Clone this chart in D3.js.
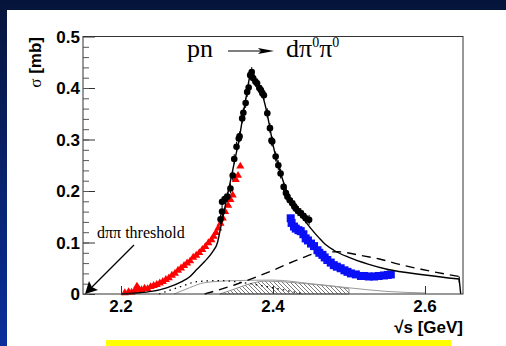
<!DOCTYPE html>
<html>
<head>
<meta charset="utf-8">
<script src="https://cdn.jsdelivr.net/npm/d3@7"></script>
<style>
  html, body { margin: 0; padding: 0; background: #06163a; }
  svg { display: block; }
</style>
</head>
<body>
<div id="chart"></div>
<script>
// black circles (measured data, peak region)
var blackX = [2.331, 2.333, 2.333, 2.337, 2.340, 2.344, 2.347, 2.349, 2.352, 2.355, 2.356, 2.3595, 2.361, 2.364, 2.366, 2.368, 2.370, 2.372, 2.374, 2.377, 2.379, 2.382, 2.384, 2.386, 2.388, 2.3925, 2.396, 2.398, 2.399, 2.4035, 2.407, 2.410, 2.414, 2.417, 2.419, 2.422, 2.4255, 2.428, 2.430, 2.433, 2.4365, 2.440, 2.443, 2.4475];
var blackY = [0.145, 0.160, 0.179, 0.185, 0.189, 0.205, 0.230, 0.262, 0.286, 0.302, 0.306, 0.341, 0.352, 0.371, 0.392, 0.401, 0.425, 0.431, 0.419, 0.412, 0.409, 0.400, 0.396, 0.390, 0.386, 0.351, 0.322, 0.298, 0.296, 0.267, 0.250, 0.234, 0.208, 0.196, 0.189, 0.182, 0.176, 0.170, 0.166, 0.161, 0.157, 0.152, 0.147, 0.144];

// red triangles (low-energy data)
var redX = [2.205, 2.210, 2.214, 2.218, 2.221, 2.223, 2.227, 2.231, 2.235, 2.239, 2.243, 2.247, 2.251, 2.255, 2.259, 2.263, 2.267, 2.271, 2.275, 2.279, 2.283, 2.287, 2.291, 2.295, 2.299, 2.303, 2.307, 2.311, 2.315, 2.319, 2.322, 2.325, 2.328, 2.331, 2.334, 2.337, 2.341, 2.344, 2.347, 2.351, 2.354, 2.357];
var redY = [0.002, 0.004, 0.003, 0.006, 0.015, 0.010, 0.008, 0.011, 0.010, 0.014, 0.016, 0.018, 0.021, 0.024, 0.028, 0.031, 0.036, 0.040, 0.046, 0.050, 0.055, 0.060, 0.064, 0.071, 0.075, 0.080, 0.086, 0.092, 0.099, 0.105, 0.112, 0.119, 0.128, 0.137, 0.147, 0.160, 0.172, 0.183, 0.192, 0.222, 0.230, 0.248];

// blue squares (high-energy data)
var blueX = [2.4233, 2.4245, 2.4276, 2.430, 2.4335, 2.4365, 2.440, 2.443, 2.446, 2.450, 2.454, 2.4585, 2.461, 2.465, 2.468, 2.4715, 2.476, 2.480, 2.484, 2.489, 2.494, 2.498, 2.5025, 2.509, 2.5157, 2.520, 2.526, 2.533, 2.539, 2.546, 2.551, 2.555];
var blueY = [0.147, 0.138, 0.131, 0.127, 0.124, 0.122, 0.116, 0.108, 0.104, 0.098, 0.093, 0.085, 0.080, 0.076, 0.071, 0.066, 0.061, 0.056, 0.053, 0.050, 0.046, 0.043, 0.040, 0.038, 0.035, 0.035, 0.034, 0.034, 0.035, 0.036, 0.037, 0.038];

// full fit (solid line)
var fitX = [2.20, 2.22, 2.24, 2.26, 2.28, 2.29, 2.30, 2.31, 2.32, 2.327, 2.331, 2.336, 2.342, 2.35, 2.356, 2.36, 2.365, 2.370, 2.373, 2.378, 2.385, 2.39, 2.395, 2.40, 2.41, 2.42, 2.43, 2.44, 2.45, 2.46, 2.47, 2.48, 2.50, 2.525, 2.55, 2.60, 2.645];
var fitY = [0.000, 0.002, 0.005, 0.012, 0.024, 0.033, 0.048, 0.063, 0.081, 0.100, 0.128, 0.163, 0.205, 0.262, 0.305, 0.342, 0.385, 0.425, 0.430, 0.414, 0.392, 0.365, 0.330, 0.290, 0.235, 0.192, 0.165, 0.146, 0.127, 0.110, 0.095, 0.085, 0.071, 0.058, 0.048, 0.037, 0.029];

// broad component (dashed line)
var dashX = [2.31, 2.35, 2.40, 2.435, 2.46, 2.485, 2.515, 2.54, 2.565, 2.595, 2.615, 2.645];
var dashY = [0.000, 0.018, 0.046, 0.068, 0.080, 0.082, 0.075, 0.068, 0.058, 0.048, 0.042, 0.034];

// hatched component
var hatchX = [2.33, 2.35, 2.37, 2.39, 2.41, 2.436, 2.463, 2.489, 2.50];
var hatchY = [0.000, 0.010, 0.020, 0.025, 0.024, 0.021, 0.0175, 0.013, 0.010];

// grey component
var greyX = [2.27, 2.29, 2.31, 2.35, 2.40, 2.45, 2.50, 2.55, 2.60];
var greyY = [0.000, 0.012, 0.022, 0.026, 0.027, 0.020, 0.012, 0.005, 0.002];

// dotted component
var dotX = [2.25, 2.28, 2.30, 2.33, 2.36, 2.40, 2.44];
var dotY = [0.000, 0.015, 0.024, 0.026, 0.022, 0.012, 0.000];

var xTicks = [2.2, 2.4, 2.6];
var yTicks = [0, 0.1, 0.2, 0.3, 0.4, 0.5];

var W = 506, H = 346;
var pL = 83, pR = 463, pT = 36.5, pB = 294;

var svg = d3.select('#chart').append('svg')
  .attr('width', W).attr('height', H);

var defs = svg.append('defs');
var bg = defs.append('linearGradient').attr('id', 'bg')
  .attr('x1', 0).attr('y1', 0).attr('x2', 0).attr('y2', 1);
bg.append('stop').attr('offset', '0%').attr('stop-color', '#05153a');
bg.append('stop').attr('offset', '100%').attr('stop-color', '#0a2e9c');

var hatch = defs.append('pattern').attr('id', 'hatch')
  .attr('patternUnits', 'userSpaceOnUse')
  .attr('width', 4).attr('height', 4);
hatch.append('path').attr('d', 'M-1,-1 L5,5 M-1,3 L1,5 M3,-1 L5,1')
  .attr('stroke', '#555').attr('stroke-width', 0.8);

svg.append('rect').attr('width', W).attr('height', H).attr('fill', 'url(#bg)');
svg.append('rect').attr('x', 7).attr('y', 10).attr('width', W - 7).attr('height', H - 10).attr('fill', '#fff');

var x = d3.scaleLinear().domain([2.15, 2.65]).range([pL, pR]);
var y = d3.scaleLinear().domain([0, 0.5]).range([pB, pT]);

var plot = svg.append('g');

function pts(xs, ys) { return xs.map(function(v, i) { return [v, ys[i]]; }); }

var line = d3.line()
  .x(function(d) { return x(d[0]); })
  .y(function(d) { return y(d[1]); })
  .curve(d3.curveMonotoneX);

// hatched area
var area = d3.area()
  .x(function(d) { return x(d[0]); })
  .y0(y(0))
  .y1(function(d) { return y(d[1]); })
  .curve(d3.curveMonotoneX);
plot.append('path').datum(pts(hatchX, hatchY))
  .attr('d', area)
  .attr('fill', 'url(#hatch)')
  .attr('stroke', '#777').attr('stroke-width', 0.8);

// grey line
plot.append('path').datum(pts(greyX, greyY))
  .attr('d', line).attr('fill', 'none')
  .attr('stroke', '#999').attr('stroke-width', 1);

// dotted line
plot.append('path').datum(pts(dotX, dotY))
  .attr('d', line).attr('fill', 'none')
  .attr('stroke', '#000').attr('stroke-width', 1.2)
  .attr('stroke-dasharray', '1.5,4');

// dashed line
var dashPts = pts(dashX, dashY);
plot.append('path').datum(dashPts)
  .attr('d', line).attr('fill', 'none')
  .attr('stroke', '#000').attr('stroke-width', 1.4)
  .attr('stroke-dasharray', '9,6');

// red triangles
var tri = d3.symbol().type(d3.symbolTriangle).size(28);
plot.selectAll('.red').data(pts(redX, redY)).enter().append('path')
  .attr('transform', function(d) { return 'translate(' + x(d[0]) + ',' + y(d[1]) + ')'; })
  .attr('d', tri)
  .attr('fill', '#ff0000');

// blue squares
plot.selectAll('.blue').data(pts(blueX, blueY)).enter().append('rect')
  .attr('x', function(d) { return x(d[0]) - 4; })
  .attr('y', function(d) { return y(d[1]) - 4; })
  .attr('width', 8).attr('height', 8)
  .attr('fill', '#0a10f5');

// black circles with small error bars
var bk = plot.selectAll('.blk').data(pts(blackX, blackY)).enter().append('g');
bk.append('line')
  .attr('x1', function(d) { return x(d[0]); }).attr('x2', function(d) { return x(d[0]); })
  .attr('y1', function(d) { return y(d[1]) - 5; }).attr('y2', function(d) { return y(d[1]) + 5; })
  .attr('stroke', '#000').attr('stroke-width', 1);
bk.append('circle')
  .attr('cx', function(d) { return x(d[0]); })
  .attr('cy', function(d) { return y(d[1]); })
  .attr('r', 3.3).attr('fill', '#000');

// fit line (solid) with drop at the end
var fitPts = pts(fitX, fitY);
plot.append('path').datum(fitPts)
  .attr('d', line).attr('fill', 'none')
  .attr('stroke', '#000').attr('stroke-width', 1.4);
var last = fitPts[fitPts.length - 1];
plot.append('line')
  .attr('x1', x(last[0])).attr('x2', x(last[0]) + 1.5)
  .attr('y1', y(last[1])).attr('y2', y(0))
  .attr('stroke', '#000').attr('stroke-width', 1.4);
var dl = dashPts[dashPts.length - 1];
plot.append('line')
  .attr('x1', x(dl[0])).attr('x2', x(dl[0]))
  .attr('y1', y(dl[1])).attr('y2', y(dl[1]) + 6)
  .attr('stroke', '#000').attr('stroke-width', 1.2);

// frame
svg.append('rect')
  .attr('x', pL).attr('y', pT)
  .attr('width', pR - pL).attr('height', pB - pT)
  .attr('fill', 'none').attr('stroke', '#333').attr('stroke-width', 1);

// y axis: ticks inside, labels left
var yAxis = d3.axisRight(y).tickValues(yTicks).tickSize(12).tickFormat('');
svg.append('g').attr('transform', 'translate(' + pL + ',0)').call(yAxis)
  .call(function(g) { g.select('.domain').remove(); g.selectAll('line').attr('stroke', '#333'); });
var yMinor = d3.axisRight(y).tickValues(d3.range(0, 0.5, 0.02)).tickSize(6).tickFormat('');
svg.append('g').attr('transform', 'translate(' + pL + ',0)').call(yMinor)
  .call(function(g) { g.select('.domain').remove(); g.selectAll('line').attr('stroke', '#555'); });

svg.append('g').selectAll('text').data(yTicks).enter().append('text')
  .attr('x', 80).attr('y', function(d) { return y(d) + 6; })
  .attr('text-anchor', 'end')
  .attr('font-family', 'Liberation Sans, Arial, sans-serif')
  .attr('font-weight', 'bold').attr('font-size', 17)
  .text(function(d) { return d === 0 ? '0' : d3.format('.1f')(d); });

// x axis: ticks inside, labels below
var xAxis = d3.axisTop(x).tickValues(xTicks).tickSize(8).tickFormat('');
svg.append('g').attr('transform', 'translate(0,' + pB + ')').call(xAxis)
  .call(function(g) { g.select('.domain').remove(); g.selectAll('line').attr('stroke', '#333'); });

svg.append('g').selectAll('text').data(xTicks).enter().append('text')
  .attr('x', function(d) { return x(d); }).attr('y', 312)
  .attr('text-anchor', 'middle')
  .attr('font-family', 'Liberation Sans, Arial, sans-serif')
  .attr('font-weight', 'bold').attr('font-size', 17)
  .text(function(d) { return d3.format('.1f')(d); });

// axis titles
svg.append('text')
  .attr('x', pR).attr('y', 333)
  .attr('text-anchor', 'end')
  .attr('font-family', 'Liberation Sans, Arial, sans-serif')
  .attr('font-weight', 'bold').attr('font-size', 17)
  .text('\u221As [GeV]');

var yt = svg.append('text')
  .attr('transform', 'translate(41,37) rotate(-90)')
  .attr('text-anchor', 'end')
  .attr('font-family', 'Liberation Sans, Arial, sans-serif')
  .attr('font-weight', 'bold').attr('font-size', 17);
yt.append('tspan').attr('font-weight', 'normal').attr('font-family', 'Liberation Serif, serif').text('\u03C3');
yt.append('tspan').text(' [mb]');

// title: pn -> d pi0 pi0
var serif = 'Liberation Serif, Times New Roman, serif';
svg.append('text').attr('x', 187).attr('y', 57)
  .attr('font-family', serif).attr('font-size', 26).text('pn');
svg.append('line').attr('x1', 228).attr('x2', 262).attr('y1', 51).attr('y2', 51)
  .attr('stroke', '#000').attr('stroke-width', 1.2);
svg.append('path').attr('d', 'M258,48 L274,51 L258,54 L261,51 Z').attr('fill', '#000');
var t2 = svg.append('text').attr('x', 286).attr('y', 57)
  .attr('font-family', serif).attr('font-size', 26);
t2.append('tspan').text('d\u03C0');
t2.append('tspan').attr('dy', -10).attr('font-size', 14).text('0');
t2.append('tspan').attr('dy', 10).text('\u03C0');
t2.append('tspan').attr('dy', -10).attr('font-size', 14).text('0');

// threshold annotation
svg.append('text').attr('x', 97).attr('y', 238)
  .attr('font-family', serif).attr('font-size', 16)
  .text('d\u03C0\u03C0 threshold');
svg.append('line').attr('x1', 134).attr('y1', 245).attr('x2', 92).attr('y2', 287)
  .attr('stroke', '#000').attr('stroke-width', 1.2);
svg.append('path').attr('d', 'M85,294 L89,281 L92,287 L98,290 Z').attr('fill', '#000');

// yellow bar
svg.append('rect').attr('x', 106).attr('y', 340).attr('width', 345).attr('height', 6).attr('fill', '#ffff00');
</script>
</body>
</html>
